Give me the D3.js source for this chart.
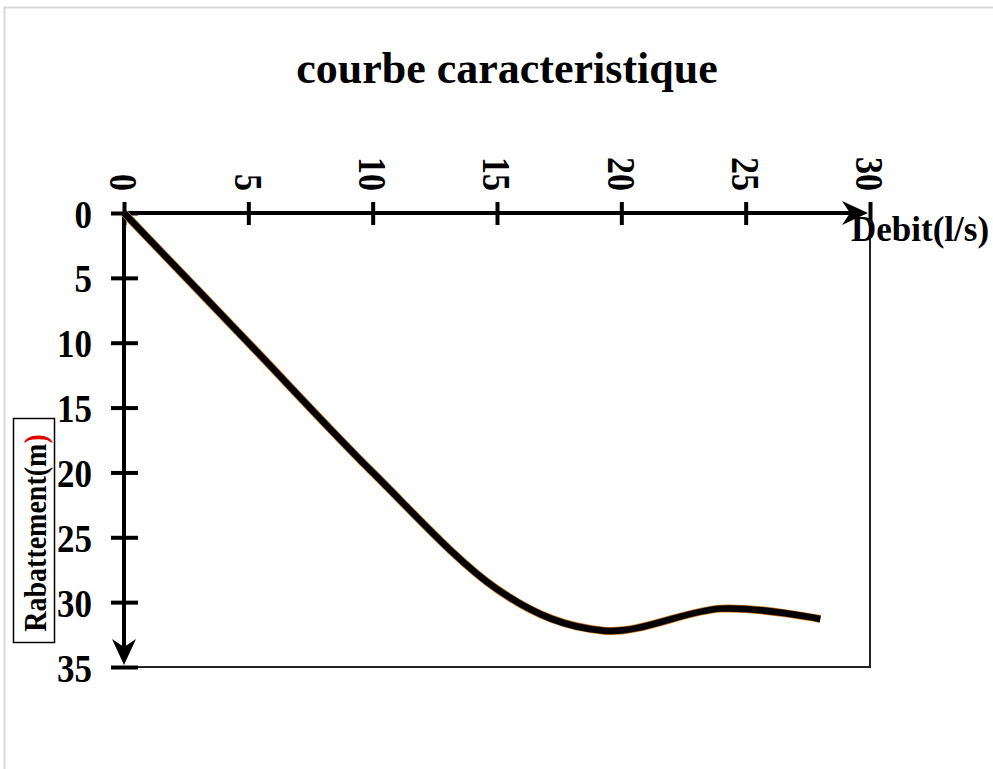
<!DOCTYPE html>
<html><head><meta charset="utf-8">
<script src="https://cdn.jsdelivr.net/npm/d3@7"></script>
<style>body{margin:0;background:#fff}svg{display:block}</style>
</head><body>
<script>
const debit = [0, 5, 10, 15, 19.3, 24, 28];
const rabattement = [0, 10, 20, 29, 32.2, 30.5, 31.3];
const xTicks = [0, 5, 10, 15, 20, 25, 30];
const yTicks = [0, 5, 10, 15, 20, 25, 30, 35];
const title = "courbe caracteristique";
const xLabel = "Debit(l/s)";
const yLabel = "Rabattement(m";

const W = 993, H = 769;
const svg = d3.select("body").append("svg").attr("width", W).attr("height", H);
const font = "'Liberation Serif','Times New Roman',serif";

svg.append("rect").attr("x", 4.5).attr("y", 7.5).attr("width", 1200).attr("height", 1000)
  .attr("fill", "none").attr("stroke", "#d9d9d9").attr("stroke-width", 2);

const x = d3.scaleLinear().domain([0, 30]).range([124, 870]);
const y = d3.scaleLinear().domain([0, 35]).range([213, 667]);

// plot frame (thin)
svg.append("path")
  .attr("d", `M${x(0)},${y(35)}H${x(30)}V${y(0)}`)
  .attr("fill", "none").attr("stroke", "#222").attr("stroke-width", 2);

// title
svg.append("text").attr("x", 507).attr("y", 83).attr("text-anchor", "middle")
  .attr("font-family", font).attr("font-weight", "bold").attr("font-size", 44).text(title);

// x axis (top)
const gx = svg.append("g").attr("transform", `translate(0,${y(0)})`)
  .call(d3.axisTop(x).tickValues(xTicks).tickSizeOuter(0));
gx.select(".domain").attr("d", `M${x(0)},0H${x(30) - 6}`).attr("stroke", "#000").attr("stroke-width", 4);
gx.selectAll(".tick line").attr("y1", -11).attr("y2", 12).attr("stroke", "#000").attr("stroke-width", 4);
gx.selectAll(".tick text")
  .attr("font-family", font).attr("font-weight", "bold").attr("font-size", 34).attr("fill", "#000")
  .attr("text-anchor", "end")
  .attr("transform", "translate(0,-22) rotate(90) scale(1,1.18)")
  .attr("x", 0).attr("y", 0).attr("dy", "0.35em");

// y axis (left)
const gy = svg.append("g").attr("transform", `translate(${x(0)},0)`)
  .call(d3.axisLeft(y).tickValues(yTicks).tickSizeOuter(0));
gy.select(".domain").attr("d", `M0,${y(0)}V${y(35) - 6}`).attr("stroke", "#000").attr("stroke-width", 4);
gy.selectAll(".tick line").attr("x1", -13).attr("x2", 14).attr("stroke", "#000").attr("stroke-width", 4);
gy.selectAll(".tick text")
  .attr("font-family", font).attr("font-weight", "bold").attr("font-size", 35).attr("fill", "#000")
  .attr("transform", "scale(1,1.15)")
  .attr("x", -32).attr("dy", "0.35em");

// arrow heads
function arrow(tx, ty, angle) {
  svg.append("path")
    .attr("d", "M0,0 L-26,-12 L-18,0 L-26,12 Z")
    .attr("transform", `translate(${tx},${ty}) rotate(${angle})`)
    .attr("fill", "#000");
}
arrow(x(30) - 2, y(0), 0);
arrow(x(0), y(35) - 2, 90);

// curve
const data = debit.map((d, i) => [d, rabattement[i]]);
const line = d3.line().x(d => x(d[0])).y(d => y(d[1])).curve(d3.curveCardinal.tension(0));
svg.append("path").datum(data).attr("d", line).attr("fill", "none")
  .attr("stroke", "#c8741e").attr("stroke-width", 8).attr("stroke-linejoin", "round");
svg.append("path").datum(data).attr("d", line).attr("fill", "none")
  .attr("stroke", "#000").attr("stroke-width", 6.5).attr("stroke-linejoin", "round");

// x label
svg.append("text").attr("x", 851).attr("y", 241)
  .attr("font-family", font).attr("font-weight", "bold").attr("font-size", 35).text(xLabel);

// y label with box
svg.append("rect").attr("x", 13.5).attr("y", 418.5).attr("width", 41).attr("height", 224)
  .attr("fill", "#fff").attr("stroke", "#000").attr("stroke-width", 1.5);
const yl = svg.append("text").attr("transform", "translate(46,533) rotate(-90) scale(1,1.15)")
  .attr("text-anchor", "middle")
  .attr("font-family", font).attr("font-weight", "bold").attr("font-size", 28);
yl.append("tspan").text(yLabel);
yl.append("tspan").attr("fill", "#d00").text(")");
</script>
</body></html>
